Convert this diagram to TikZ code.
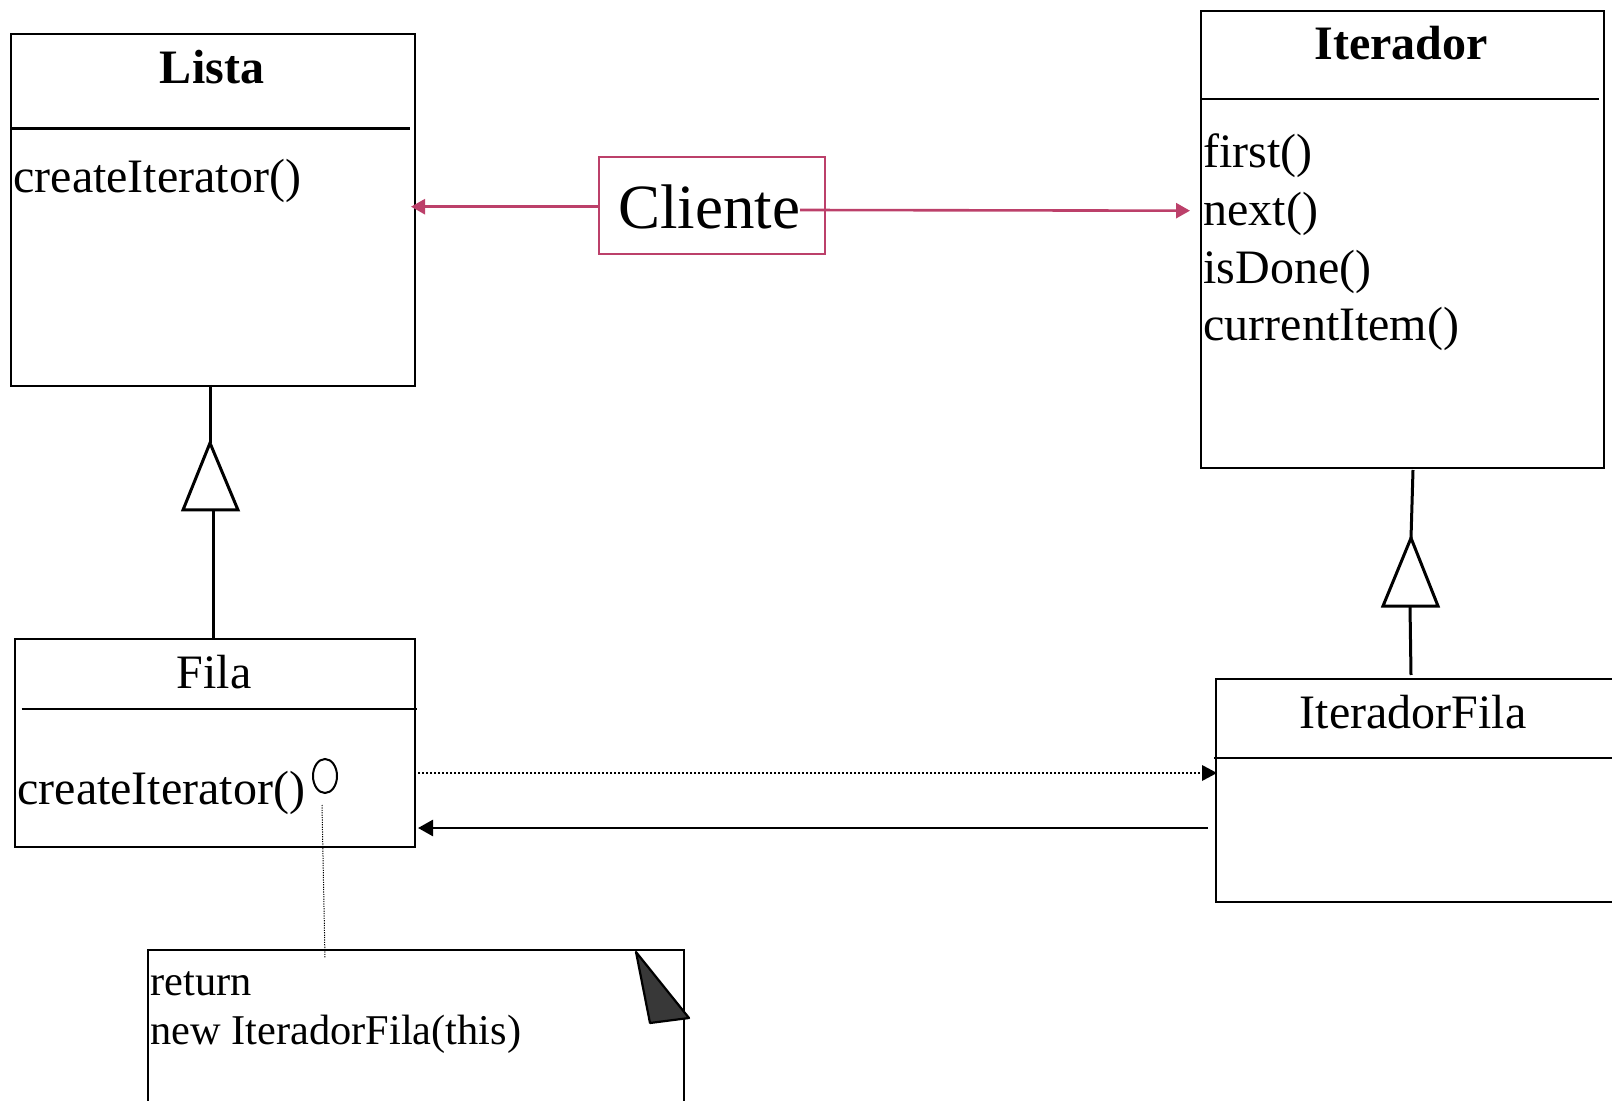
\documentclass[tikz,border=0pt]{standalone}
\usepackage{fontspec}
\setmainfont{Liberation Serif}
\usetikzlibrary{arrows.meta}
\definecolor{clientpink}{RGB}{188,64,106}
\begin{document}
\begin{tikzpicture}[x=0.5pt,y=-0.5pt,
  box/.style={draw,line width=1.1pt,rectangle,inner sep=0pt,anchor=north west},
  divider/.style={line width=1.4pt},
  txt/.style={inner sep=0pt,font=\fontsize{24}{28}\selectfont},
  classname/.style={inner sep=0pt,anchor=base,font=\fontsize{24}{28}\selectfont\bfseries},
  plainname/.style={inner sep=0pt,anchor=base,font=\fontsize{24}{28}\selectfont},
  notetxt/.style={inner sep=0pt,anchor=base west,font=\fontsize{21.2}{24}\selectfont},
  inherit/.style={line width=1.5pt},
  hollowtri/.style={line width=1.5pt,fill=white,line join=miter},
  pinkarrow/.style={draw=clientpink,line width=1.3pt,-{Triangle[length=7pt,width=7.5pt]}},
  blackarrow/.style={line width=1.3pt,-{Triangle[length=7.5pt,width=8pt]}},
  dotarrow/.style={line width=1.1pt,dash pattern=on 1pt off 1pt,-{Triangle[length=7.5pt,width=8pt,line width=0pt]}},
  notelink/.style={line width=0.5pt,dash pattern=on 0.6pt off 0.6pt}
]
\useasboundingbox (0,0) rectangle (1612,1101);
\begin{scope}
\clip (0,0) rectangle (1612,1101);

% class boxes
\node[box,minimum width=202pt,minimum height=176pt] (lista) at (10,33) {};
\node[box,minimum width=201.5pt,minimum height=228.5pt] (iterador) at (1200,10) {};
\node[box,minimum width=200pt,minimum height=104pt] (fila) at (14,638) {};
\node[box,minimum width=215pt,minimum height=111.5pt] (iterfila) at (1215,678) {};
\node[box,draw=clientpink,minimum width=113pt,minimum height=48.5pt] (cliente) at (598,156) {};
\node[box,minimum width=268pt,minimum height=100pt] (note) at (147,949) {};

% compartment dividers
\draw[line width=1.1pt] (10,128.5) -- (410,128.5);
\draw[divider] (1200,99) -- (1599,99);
\draw[divider] (21.6,709) -- (417,709);
\draw[divider] (1214,758) -- (1640,758);

% texts
\node[classname] (listaname) at (212,84) {Lista};
\node[txt,anchor=base west] (listaop) at (13,193) {createIterator()};
\node[classname] (itername) at (1401,60) {Iterador};
\node[txt,anchor=base west] (op1) at (1203,168) {first()};
\node[txt,anchor=base west] (op2) at (1203,226) {next()};
\node[txt,anchor=base west] (op3) at (1203,284) {isDone()};
\node[txt,anchor=base west] (op4) at (1203,341) {currentItem()};
\node[inner sep=0pt,anchor=base,font=\fontsize{31.5}{36}\selectfont] (clientename) at (709,229) {Cliente};
\node[plainname] (filaname) at (214,688) {Fila};
\node[txt,anchor=base west] (filaop) at (17,804) {createIterator()};
\node[plainname] (iterfilaname) at (1413,728) {IteradorFila};
\node[notetxt] (note1) at (150,995) {return};
\node[notetxt] (note2) at (150,1044) {new IteradorFila(this)};

% small mark after the operation
\draw[line width=1pt] (325,776) ellipse [x radius=6pt, y radius=8.5pt];

% folded corner of the note
\draw[line width=1.1pt,fill=black!78,line join=round] (636,952) -- (689,1018) -- (650,1023) -- cycle;

% endpoints of the connectors
\coordinate (cliL) at (598,206.7);
\coordinate (listaR) at (411,206.7);
\coordinate (cliR) at (800,210);
\coordinate (iterL) at (1190,210.7);
\coordinate (listaB) at (210,385);
\coordinate (triA1) at (210,443);
\coordinate (triB1) at (213,510);
\coordinate (filaT) at (213,640);
\coordinate (iterB) at (1413,470);
\coordinate (triA2) at (1411,538);
\coordinate (triB2) at (1410,606);
\coordinate (iterfilaT) at (1411,675);
\coordinate (filaR1) at (414,773);
\coordinate (iterfilaL1) at (1217,773);
\coordinate (iterfilaL2) at (1208,828);
\coordinate (filaR2) at (418,828);
\coordinate (markB) at (322,805);
\coordinate (noteT) at (325,958);

% client associations
\draw[pinkarrow] (cliL) -- (listaR);
\draw[pinkarrow] (cliR) -- (iterL);

% generalizations
\draw[inherit] (listaB) -- (triA1);
\draw[hollowtri] (triA1) -- (238,510) -- (183,510) -- cycle;
\draw[inherit] (triB1) -- (filaT);
\draw[inherit] (iterB) -- (triA2);
\draw[hollowtri] (triA2) -- (1438,606) -- (1383,606) -- cycle;
\draw[inherit] (triB2) -- (iterfilaT);

% creation and back reference
\draw[dotarrow] (filaR1) -- (iterfilaL1);
\draw[blackarrow] (iterfilaL2) -- (filaR2);

% note link
\draw[notelink] (markB) -- (noteT);
\end{scope}
\end{tikzpicture}
\end{document}
